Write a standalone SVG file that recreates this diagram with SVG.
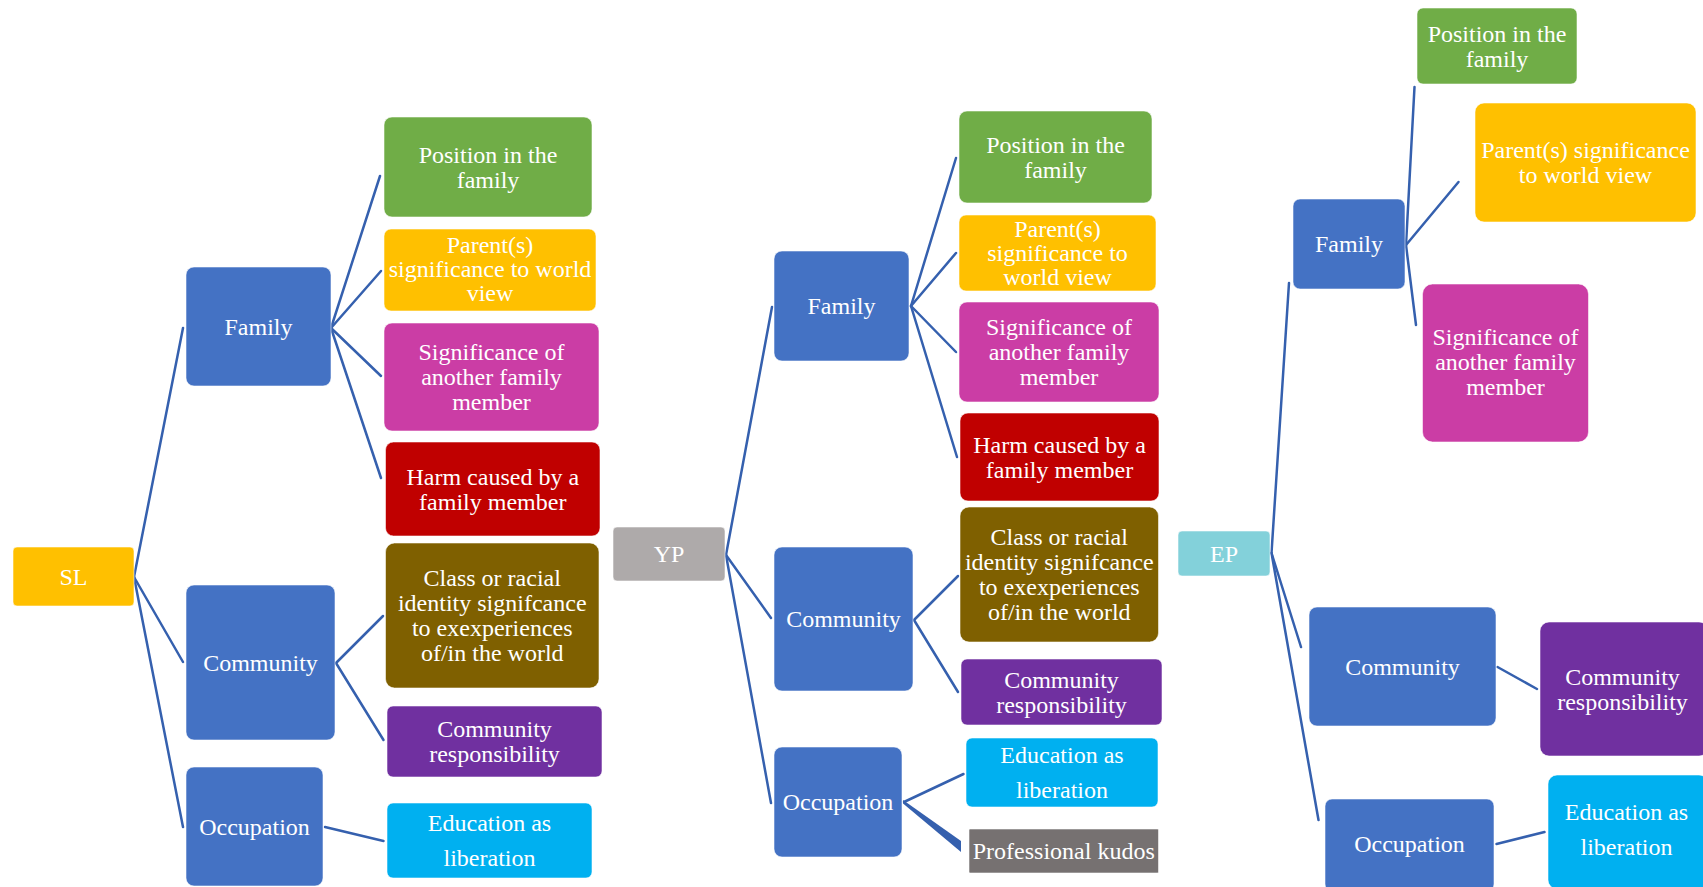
<svg xmlns="http://www.w3.org/2000/svg" width="1703" height="887" viewBox="0 0 1703 887">
<style>
rect{stroke:#ffffff;stroke-opacity:0.55;stroke-width:1}
text{font-family:"Liberation Serif","Times New Roman",serif;font-size:24px;fill:#ffffff;text-anchor:middle}
.blue{fill:#4472C4}
.green{fill:#70AD47}
.yellow{fill:#FFC000}
.pink{fill:#CB3DA5}
.red{fill:#C00000}
.brown{fill:#7F6000}
.purple{fill:#7030A0}
.cyan{fill:#00B0F0}
.conn line{stroke:#3560AE;stroke-width:2.5;stroke-linecap:round}
</style>
<rect width="1703" height="887" fill="#ffffff" stroke="none"/>
<g class="conn" id="connectors">
<line x1="134" y1="577" x2="183" y2="328"/>
<line x1="134" y1="577" x2="183" y2="662"/>
<line x1="134" y1="577" x2="183" y2="827"/>
<line x1="331" y1="328" x2="380" y2="176"/>
<line x1="331" y1="328" x2="381" y2="271"/>
<line x1="331" y1="328" x2="381" y2="376"/>
<line x1="331" y1="328" x2="381" y2="478"/>
<line x1="336" y1="663" x2="383" y2="616"/>
<line x1="336" y1="663" x2="383.5" y2="740"/>
<line x1="325" y1="827" x2="383.5" y2="841"/>
<line x1="726" y1="555" x2="772" y2="307"/>
<line x1="726" y1="555" x2="771" y2="618"/>
<line x1="726" y1="555" x2="771" y2="803"/>
<line x1="911" y1="306" x2="956" y2="158"/>
<line x1="911" y1="306" x2="956" y2="253"/>
<line x1="911" y1="306" x2="956" y2="352"/>
<line x1="911" y1="306" x2="957" y2="457"/>
<line x1="914" y1="620" x2="958" y2="576"/>
<line x1="914" y1="620" x2="958" y2="692"/>
<line x1="904" y1="802" x2="963.5" y2="774"/>
<polygon points="903,800 961,841 961,852 903,803.5" fill="#3560AE"/>
<line x1="1271.5" y1="553" x2="1289" y2="283"/>
<line x1="1271.5" y1="553" x2="1301" y2="647"/>
<line x1="1271.5" y1="553" x2="1318.5" y2="820"/>
<line x1="1406" y1="245" x2="1414.5" y2="87"/>
<line x1="1406" y1="245" x2="1458.5" y2="182"/>
<line x1="1406" y1="245" x2="1416" y2="325"/>
<line x1="1497.5" y1="667" x2="1537" y2="689"/>
<line x1="1496.5" y1="844" x2="1544.5" y2="832"/>
</g>

<g id="SL"><rect x="13" y="547" width="121" height="59" rx="4" class="yellow"/><text x="73.5" y="584.5">SL</text></g>
<g id="SL-family"><rect x="186" y="267" width="145" height="119" rx="8" class="blue"/><text x="258.5" y="334.5">Family</text></g>
<g id="SL-community"><rect x="186" y="585" width="149" height="155" rx="8" class="blue"/><text x="260.5" y="670.5">Community</text></g>
<g id="SL-occupation"><rect x="186" y="767" width="137" height="119" rx="8" class="blue"/><text x="254.5" y="834.5">Occupation</text></g>
<g id="SL-position"><rect x="384" y="117" width="208" height="100" rx="8" class="green"/><text x="488" y="162.5">Position in the</text><text x="488" y="187.5">family</text></g>
<g id="SL-parent"><rect x="384" y="229" width="212" height="82" rx="7" class="yellow"/><text x="490" y="253">Parent(s)</text><text x="490" y="277">significance to world</text><text x="490" y="301">view</text></g>
<g id="SL-significance"><rect x="384" y="323" width="215" height="108" rx="8" class="pink"/><text x="491.5" y="360">Significance of</text><text x="491.5" y="385">another family</text><text x="491.5" y="410">member</text></g>
<g id="SL-harm"><rect x="385.5" y="442" width="214.5" height="94" rx="8" class="red"/><text x="492.75" y="484.5">Harm caused by a</text><text x="492.75" y="509.5">family member</text></g>
<g id="SL-class"><rect x="385.5" y="543" width="213.5" height="145" rx="9" class="brown"/><text x="492.25" y="586">Class or racial</text><text x="492.25" y="611">identity signifcance</text><text x="492.25" y="636">to exexperiences</text><text x="492.25" y="661">of/in the world</text></g>
<g id="SL-commresp"><rect x="387" y="706" width="215" height="71" rx="6" class="purple"/><text x="494.5" y="737">Community</text><text x="494.5" y="762">responsibility</text></g>
<g id="SL-education"><rect x="387" y="803" width="205" height="75" rx="6" class="cyan"/><text x="489.5" y="831">Education as</text><text x="489.5" y="866">liberation</text></g>

<g id="YP"><rect x="613" y="527" width="112" height="54" rx="4" fill="#AEAAAA"/><text x="669" y="562">YP</text></g>
<g id="YP-family"><rect x="774" y="251" width="135" height="110" rx="8" class="blue"/><text x="841.5" y="314">Family</text></g>
<g id="YP-community"><rect x="774" y="547" width="139" height="144" rx="8" class="blue"/><text x="843.5" y="627">Community</text></g>
<g id="YP-occupation"><rect x="774" y="747" width="128" height="110" rx="8" class="blue"/><text x="838" y="810">Occupation</text></g>
<g id="YP-position"><rect x="959" y="111" width="193" height="92" rx="8" class="green"/><text x="1055.5" y="152.5">Position in the</text><text x="1055.5" y="177.5">family</text></g>
<g id="YP-parent"><rect x="959" y="215" width="197" height="76" rx="7" class="yellow"/><text x="1057.5" y="237">Parent(s)</text><text x="1057.5" y="261">significance to</text><text x="1057.5" y="285">world view</text></g>
<g id="YP-significance"><rect x="959" y="302" width="200" height="100" rx="8" class="pink"/><text x="1059" y="335">Significance of</text><text x="1059" y="360">another family</text><text x="1059" y="385">member</text></g>
<g id="YP-harm"><rect x="960" y="413" width="199" height="88" rx="8" class="red"/><text x="1059.5" y="452.5">Harm caused by a</text><text x="1059.5" y="477.5">family member</text></g>
<g id="YP-class"><rect x="960" y="507" width="198.5" height="135" rx="9" class="brown"/><text x="1059.25" y="545">Class or racial</text><text x="1059.25" y="570">identity signifcance</text><text x="1059.25" y="595">to exexperiences</text><text x="1059.25" y="620">of/in the world</text></g>
<g id="YP-commresp"><rect x="961" y="659" width="201" height="66" rx="6" class="purple"/><text x="1061.5" y="687.5">Community</text><text x="1061.5" y="712.5">responsibility</text></g>
<g id="YP-education"><rect x="966" y="738" width="192" height="69" rx="6" class="cyan"/><text x="1062" y="763">Education as</text><text x="1062" y="798">liberation</text></g>
<g id="YP-kudos"><rect x="969" y="829" width="189.5" height="44" rx="1" fill="#767171"/><text x="1063.75" y="859">Professional kudos</text></g>

<g id="EP"><rect x="1178" y="531" width="92" height="45" rx="4" fill="#83D1DA"/><text x="1224" y="561.5">EP</text></g>
<g id="EP-family"><rect x="1293" y="199" width="112" height="90" rx="7" class="blue"/><text x="1349" y="252">Family</text></g>
<g id="EP-community"><rect x="1309" y="607" width="187" height="119" rx="8" class="blue"/><text x="1402.5" y="674.5">Community</text></g>
<g id="EP-occupation"><rect x="1325" y="799" width="169" height="92" rx="7" class="blue"/><text x="1409.5" y="851.5">Occupation</text></g>
<g id="EP-position"><rect x="1417" y="8" width="160" height="76" rx="6" class="green"/><text x="1497" y="41.5">Position in the</text><text x="1497" y="66.5">family</text></g>
<g id="EP-parent"><rect x="1475" y="103" width="221" height="119" rx="9" class="yellow"/><text x="1585.5" y="158">Parent(s) significance</text><text x="1585.5" y="183">to world view</text></g>
<g id="EP-significance"><rect x="1422.5" y="284" width="166" height="158" rx="10" class="pink"/><text x="1505.5" y="345">Significance of</text><text x="1505.5" y="370">another family</text><text x="1505.5" y="395">member</text></g>
<g id="EP-commresp"><rect x="1540" y="622" width="168" height="134" rx="9" class="purple"/><text x="1622.5" y="684.5">Community</text><text x="1622.5" y="709.5">responsibility</text></g>
<g id="EP-education"><rect x="1548" y="775" width="160" height="114" rx="9" class="cyan"/><text x="1626.5" y="820">Education as</text><text x="1626.5" y="855">liberation</text></g>
</svg>
